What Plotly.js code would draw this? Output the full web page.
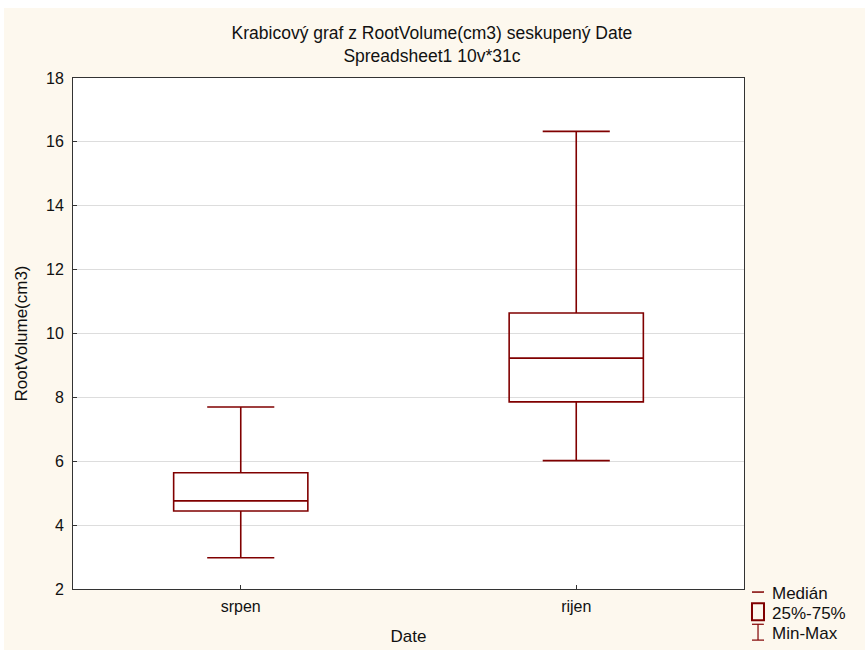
<!DOCTYPE html>
<html>
<head>
<meta charset="utf-8">
<script src="https://cdn.plot.ly/plotly-3.0.1.min.js"></script>
<style>
html,body{margin:0;padding:0;background:#ffffff;width:865px;height:650px;overflow:hidden;}
#chart{position:absolute;left:4px;top:8px;width:861px;height:642px;}
</style>
</head>
<body>
<div id="chart"></div>
<script>
const categories = ["srpen", "rijen"];
const minVals = [2.98, 6.02];
const q1Vals = [4.44, 7.86];
const medianVals = [4.76, 9.23];
const q3Vals = [5.64, 10.64];
const maxVals = [7.70, 16.33];
const yTicks = [2, 4, 6, 8, 10, 12, 14, 16, 18];

const dark = "#800000";
const trace = {
  type: "box",
  x: categories,
  q1: q1Vals,
  median: medianVals,
  q3: q3Vals,
  lowerfence: minVals,
  upperfence: maxVals,
  boxpoints: false,
  width: 0.4,
  whiskerwidth: 0.5,
  fillcolor: "rgba(255,255,255,0)",
  line: {color: dark, width: 1.6},
  hoverinfo: "skip",
  showlegend: false
};

const font = {family: "Liberation Sans, Arial, sans-serif", color: "#111111"};
const f = s => Object.assign({size: s}, font);

const layout = {
  width: 861, height: 642,
  paper_bgcolor: "#fdf8ee",
  plot_bgcolor: "#ffffff",
  margin: {l: 69, r: 121, t: 70, b: 61},
  font: f(16),
  title: {
    text: "Krabicový graf z RootVolume(cm3) seskupený Date<br>Spreadsheet1 10v*31c",
    font: f(17.5),
    x: 0.497, xref: "container", y: 0.951, yref: "container", yanchor: "top"
  },
  xaxis: {
    type: "category",
    range: [-0.5, 1.5],
    showgrid: false,
    zeroline: false,
    showline: true, mirror: true, linecolor: "#333333", linewidth: 1,
    ticks: "inside", ticklen: 4, tickcolor: "#333333",
    ticklabelstandoff: 3,
    tickfont: f(16),
    title: {text: "Date", font: f(17), standoff: 15}
  },
  yaxis: {
    range: [2, 18],
    tickvals: yTicks,
    showgrid: true, gridcolor: "#dddddd", gridwidth: 1,
    zeroline: false,
    showline: true, mirror: true, linecolor: "#333333", linewidth: 1,
    ticks: "inside", ticklen: 4, tickcolor: "#333333",
    ticklabelstandoff: 5,
    tickfont: f(16),
    title: {text: "RootVolume(cm3)", font: f(17), standoff: 14}
  },
  shapes: [
    {type: "line", xref: "paper", yref: "paper", x0: 1.0119, x1: 1.0298, y0: -0.006, y1: -0.006, line: {color: dark, width: 1.5}},
    {type: "rect", xref: "paper", yref: "paper", x0: 1.0119, x1: 1.0298, y0: -0.028, y1: -0.061, line: {color: dark, width: 2}, fillcolor: "rgba(0,0,0,0)"},
    {type: "line", xref: "paper", yref: "paper", x0: 1.0209, x1: 1.0209, y0: -0.069, y1: -0.100, line: {color: dark, width: 1.2}},
    {type: "line", xref: "paper", yref: "paper", x0: 1.0119, x1: 1.0298, y0: -0.069, y1: -0.069, line: {color: dark, width: 1.2}},
    {type: "line", xref: "paper", yref: "paper", x0: 1.0119, x1: 1.0298, y0: -0.100, y1: -0.100, line: {color: dark, width: 1.2}}
  ],
  annotations: [
    {text: "Medián", xref: "paper", yref: "paper", x: 1.0387, y: -0.008, xanchor: "left", yanchor: "middle", showarrow: false, font: f(17)},
    {text: "25%-75%", xref: "paper", yref: "paper", x: 1.0387, y: -0.047, xanchor: "left", yanchor: "middle", showarrow: false, font: f(17)},
    {text: "Min-Max", xref: "paper", yref: "paper", x: 1.0387, y: -0.088, xanchor: "left", yanchor: "middle", showarrow: false, font: f(17)}
  ]
};

Plotly.newPlot("chart", [trace], layout, {displayModeBar: false, staticPlot: true});
</script>
</body>
</html>
